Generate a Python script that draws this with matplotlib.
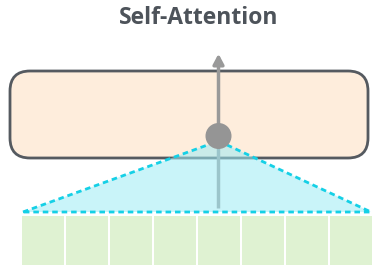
import matplotlib.pyplot as plt
from matplotlib.patches import FancyBboxPatch, Rectangle, Polygon, Circle

# diagram content
title = "Self-Attention"
n_tokens = 8
token_x0, token_w = 21, 44
query_token = 4  # the token the attention output sits above

fig = plt.figure(figsize=(3.74, 2.65), dpi=100)
ax = fig.add_axes([0, 0, 1, 1])
ax.set_xlim(0, 374)
ax.set_ylim(265, 0)
ax.axis('off')

# layer box
box = FancyBboxPatch((10, 71), 358, 87, boxstyle="round,pad=0,rounding_size=20",
                     fc='#feeddc', ec='#555a60', lw=2, zorder=1)
ax.add_patch(box)

# token cells
for i in range(n_tokens):
    ax.add_patch(Rectangle((token_x0 + i * token_w + 0.8, 216), token_w - 1.6, 50,
                           fc='#dff2d2', ec='none', zorder=1))

cx = token_x0 + query_token * token_w + 22 - 0.5
cy = 136

# vertical line from tokens to output and up
ax.plot([cx, cx], [208, cy], color='#999999', lw=2.5, zorder=2, solid_capstyle='butt')
ax.annotate('', xy=(cx, 51), xytext=(cx, cy),
            arrowprops=dict(arrowstyle='-|>,head_length=0.6,head_width=0.32',
                            color='#999999', lw=2.5), zorder=2)

# attention cone
left, right = token_x0 + 2, token_x0 + n_tokens * token_w - 2
tri = Polygon([(left, 212), (cx, 141), (right, 212)], closed=True,
              fc=(0.62, 0.92, 0.96, 0.55), ec='none', zorder=3)
ax.add_patch(tri)
ax.plot([left, cx, right, left], [212, 141, 212, 212], color='#15d0e6', lw=2,
        ls=(0, (2.0, 1.4)), zorder=4)

ax.add_patch(Circle((cx, cy), 13, fc='#959595', ec='none', zorder=5))

ax.text(198.5, 18, title, ha='center', va='center', fontsize=16.5, fontweight='bold',
        family=['Open Sans', 'DejaVu Sans'], color='#4d535a')

fig.savefig('out.png', dpi=100)
